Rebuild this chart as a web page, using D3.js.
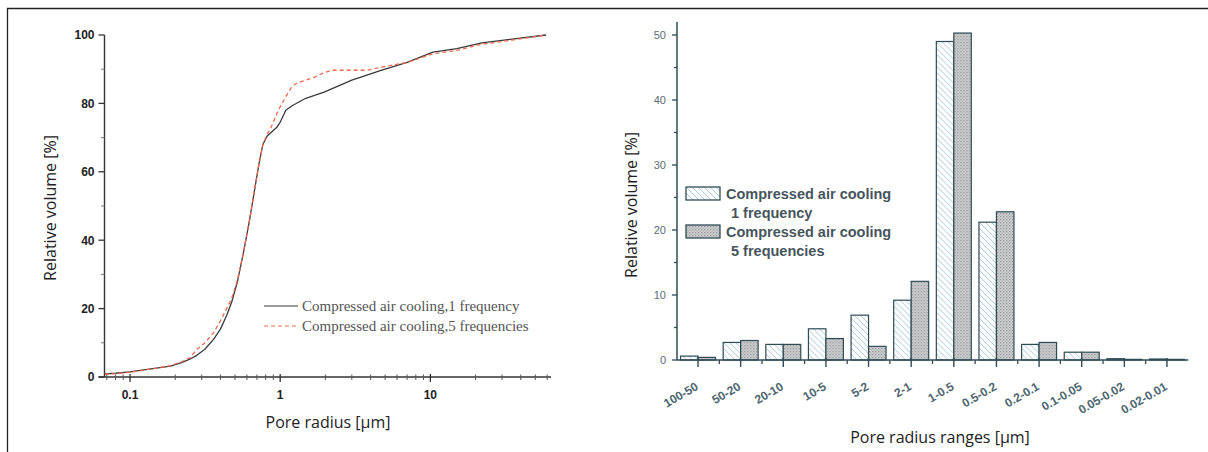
<!DOCTYPE html>
<html>
<head>
<meta charset="utf-8">
<script src="https://cdn.jsdelivr.net/npm/d3@7"></script>
<style>
  body { margin: 0; background: #fff; }
</style>
</head>
<body>
<div id="vis-container"></div>
<script>
// left panel: cumulative pore volume vs pore radius
const radius1 = [0.068, 0.08, 0.1, 0.12, 0.15, 0.186, 0.22, 0.25, 0.28, 0.316, 0.36, 0.40, 0.44, 0.476, 0.52, 0.567, 0.62, 0.68, 0.72, 0.767, 0.82, 0.87, 0.95, 1.0, 1.09, 1.2, 1.48, 1.96, 3.0, 4.75, 7, 10.4, 15, 22, 35, 59];
const volume1 = [0.9, 1.1, 1.5, 2.0, 2.6, 3.2, 4.2, 5.2, 6.4, 8.2, 11, 14, 18, 22, 28, 36, 45, 55.5, 62, 68, 70.5, 71.5, 73, 74.5, 78, 79.3, 81.5, 83.3, 86.8, 89.7, 92, 95, 96, 97.7, 98.8, 100];
const radius2 = [0.068, 0.08, 0.1, 0.12, 0.15, 0.186, 0.22, 0.25, 0.28, 0.316, 0.36, 0.40, 0.44, 0.476, 0.52, 0.567, 0.62, 0.68, 0.72, 0.767, 0.82, 0.87, 0.95, 1.0, 1.09, 1.2, 1.3, 1.48, 1.64, 1.96, 2.2, 3.0, 3.8, 4.75, 7, 10.4, 15, 22, 35, 59];
const volume2 = [0.8, 1.0, 1.4, 1.9, 2.6, 3.3, 4.4, 5.6, 8.2, 10, 13, 16.4, 20, 23, 28.5, 36, 45, 55.5, 62, 68, 71, 73, 77, 79, 82, 85, 86, 86.8, 87.4, 89, 89.7, 89.7, 89.7, 90.6, 92, 94.5, 95.5, 97.3, 98.5, 100];
const curveNames = ['Compressed air cooling,1 frequency', 'Compressed air cooling,5 frequencies'];
const radiusTicks = [0.1, 1, 10];
const radiusMinor = [0.07, 0.08, 0.09, 0.2, 0.3, 0.4, 0.5, 0.6, 0.7, 0.8, 0.9, 2, 3, 4, 5, 6, 7, 8, 9, 20, 30, 40, 50, 60];
const cumTicks = [0, 20, 40, 60, 80, 100];
const cumMinor = [10, 30, 50, 70, 90];

// right panel: volume share per pore radius range
const ranges = ['100-50', '50-20', '20-10', '10-5', '5-2', '2-1', '1-0.5', '0.5-0.2', '0.2-0.1', '0.1-0.05', '0.05-0.02', '0.02-0.01'];
const share1 = [0.6, 2.7, 2.4, 4.8, 6.9, 9.2, 49.0, 21.2, 2.4, 1.2, 0.2, 0.15];
const share5 = [0.4, 3.0, 2.4, 3.3, 2.1, 12.1, 50.3, 22.8, 2.7, 1.2, 0.1, 0.1];
const barNames = [['Compressed air cooling', '1 frequency'], ['Compressed air cooling', '5 frequencies']];
const shareTicks = [0, 10, 20, 30, 40, 50];
const shareMinor = [5, 15, 25, 35, 45];

const width = 1208;
const height = 452;

const svg = d3.select('#vis-container').append('svg')
  .attr('width', width)
  .attr('height', height);

// outer frame (top and left rules)
svg.append('path')
  .attr('d', `M7.5,${height} V8.5 H${width}`)
  .attr('fill', 'none')
  .attr('stroke', '#222')
  .attr('stroke-width', 1.3);

// ---------- left panel ----------
const xLog = d3.scaleLog().domain([0.0676, 63.6]).range([104.5, 551]);
const yCum = d3.scaleLinear().domain([0, 100]).range([377, 35]);

const left = svg.append('g');
const axisCol = '#333';

// y axis
left.append('line')
  .attr('x1', xLog.range()[0]).attr('x2', xLog.range()[0])
  .attr('y1', yCum(100)).attr('y2', yCum(0))
  .attr('stroke', axisCol).attr('stroke-width', 1.4);
left.selectAll('.ymaj').data(cumTicks).join('line')
  .attr('x1', xLog.range()[0] - 6).attr('x2', xLog.range()[0])
  .attr('y1', d => yCum(d)).attr('y2', d => yCum(d))
  .attr('stroke', axisCol).attr('stroke-width', 1.3);
left.selectAll('.ymin').data(cumMinor).join('line')
  .attr('x1', xLog.range()[0] - 3.5).attr('x2', xLog.range()[0])
  .attr('y1', d => yCum(d)).attr('y2', d => yCum(d))
  .attr('stroke', '#777').attr('stroke-width', 1);
left.selectAll('.ylab').data(cumTicks).join('text')
  .attr('x', xLog.range()[0] - 10)
  .attr('y', d => yCum(d))
  .attr('dy', '0.36em')
  .attr('text-anchor', 'end')
  .attr('font-family', '"Liberation Sans", Arial, sans-serif')
  .attr('font-weight', 'bold')
  .attr('font-size', 12)
  .attr('fill', '#222')
  .text(d => d);

// x axis
left.append('line')
  .attr('x1', xLog.range()[0] - 6).attr('x2', xLog.range()[1])
  .attr('y1', yCum(0)).attr('y2', yCum(0))
  .attr('stroke', axisCol).attr('stroke-width', 1.4);
left.selectAll('.xmaj').data(radiusTicks).join('line')
  .attr('x1', d => xLog(d)).attr('x2', d => xLog(d))
  .attr('y1', yCum(0) - 3).attr('y2', yCum(0) + 5)
  .attr('stroke', axisCol).attr('stroke-width', 1.3);
left.selectAll('.xmin').data(radiusMinor).join('line')
  .attr('x1', d => xLog(d)).attr('x2', d => xLog(d))
  .attr('y1', yCum(0) - 2.5).attr('y2', yCum(0) + 3)
  .attr('stroke', '#555').attr('stroke-width', 1);
left.selectAll('.xlab').data(radiusTicks).join('text')
  .attr('x', d => xLog(d))
  .attr('y', yCum(0) + 22)
  .attr('text-anchor', 'middle')
  .attr('font-family', '"Liberation Sans", Arial, sans-serif')
  .attr('font-weight', 'bold')
  .attr('font-size', 12)
  .attr('fill', '#222')
  .text(d => d);

// curves
const line = d3.line()
  .x(d => xLog(d[0]))
  .y(d => yCum(d[1]));

left.append('path')
  .datum(d3.zip(radius1, volume1))
  .attr('fill', 'none')
  .attr('stroke', '#3a3a3a')
  .attr('stroke-width', 1.3)
  .attr('stroke-linejoin', 'round')
  .attr('d', line);

left.append('path')
  .datum(d3.zip(radius2, volume2))
  .attr('fill', 'none')
  .attr('stroke', '#f0694c')
  .attr('stroke-width', 1.3)
  .attr('stroke-dasharray', '4,3')
  .attr('stroke-linejoin', 'round')
  .attr('d', line);

// legend
const legL = left.append('g').attr('transform', 'translate(264,306)');
legL.append('line').attr('x1', 0).attr('x2', 34).attr('y1', 0).attr('y2', 0)
  .attr('stroke', '#3a3a3a').attr('stroke-width', 1.2);
legL.append('line').attr('x1', 0).attr('x2', 34).attr('y1', 20).attr('y2', 20)
  .attr('stroke', '#f0694c').attr('stroke-width', 1.2).attr('stroke-dasharray', '4,3');
legL.selectAll('text').data(curveNames).join('text')
  .attr('x', 38)
  .attr('y', (d, i) => i * 20)
  .attr('dy', '0.35em')
  .attr('font-family', '"Liberation Serif", "Times New Roman", serif')
  .attr('font-size', 15)
  .attr('fill', '#555')
  .text(d => d);

// axis titles
left.append('text')
  .attr('transform', 'translate(50,208) rotate(-90)')
  .attr('text-anchor', 'middle')
  .attr('dy', '0.35em')
  .attr('font-family', '"Open Sans", sans-serif')
  .attr('font-size', 16)
  .attr('fill', '#222')
  .text('Relative volume [%]');
left.append('text')
  .attr('x', 328).attr('y', 422)
  .attr('text-anchor', 'middle')
  .attr('dy', '0.35em')
  .attr('font-family', '"Open Sans", sans-serif')
  .attr('font-size', 16)
  .attr('fill', '#222')
  .text('Pore radius [µm]');

// ---------- right panel ----------
const barStroke = '#2f4b56';
const defs = svg.append('defs');
const hatch = defs.append('pattern')
  .attr('id', 'hatch').attr('patternUnits', 'userSpaceOnUse')
  .attr('width', 6).attr('height', 6);
hatch.append('rect').attr('width', 6).attr('height', 6).attr('fill', '#fff');
hatch.append('path')
  .attr('d', 'M0,0 L6,6 M-1,5 L1,7 M5,-1 L7,1')
  .attr('stroke', '#9fc4dc').attr('stroke-width', 0.9);
const dots = defs.append('pattern')
  .attr('id', 'dots').attr('patternUnits', 'userSpaceOnUse')
  .attr('width', 3).attr('height', 3);
dots.append('rect').attr('width', 3).attr('height', 3).attr('fill', '#d2d2d2');
dots.append('rect').attr('width', 1.3).attr('height', 1.3).attr('fill', '#8f9598');
dots.append('rect').attr('x', 1.5).attr('y', 1.5).attr('width', 1.3).attr('height', 1.3).attr('fill', '#a9aeb0');

const xBand = d3.scaleBand().domain(ranges).range([676.7, 1188.3])
  .paddingInner(0.18).paddingOuter(0.09);
const xSub = d3.scaleBand().domain([0, 1]).range([0, xBand.bandwidth()]);
const yShare = d3.scaleLinear().domain([0, 52]).range([360, 22]);

const right = svg.append('g');
const step = xBand.step();
const axisX0 = 677;

// bars
const groups = right.selectAll('.grp').data(ranges).join('g')
  .attr('transform', d => `translate(${xBand(d)},0)`);
groups.append('rect')
  .attr('x', xSub(0)).attr('width', xSub.bandwidth())
  .attr('y', (d, i) => yShare(share1[i]))
  .attr('height', (d, i) => yShare(0) - yShare(share1[i]))
  .attr('fill', 'url(#hatch)')
  .attr('stroke', barStroke).attr('stroke-width', 1.2);
groups.append('rect')
  .attr('x', xSub(1)).attr('width', xSub.bandwidth())
  .attr('y', (d, i) => yShare(share5[i]))
  .attr('height', (d, i) => yShare(0) - yShare(share5[i]))
  .attr('fill', 'url(#dots)')
  .attr('stroke', barStroke).attr('stroke-width', 1.2);

// y axis
right.append('line')
  .attr('x1', axisX0).attr('x2', axisX0)
  .attr('y1', yShare.range()[1]).attr('y2', yShare(0))
  .attr('stroke', barStroke).attr('stroke-width', 1.5);
right.selectAll('.ymaj').data(shareTicks).join('line')
  .attr('x1', axisX0 - 5).attr('x2', axisX0)
  .attr('y1', d => yShare(d)).attr('y2', d => yShare(d))
  .attr('stroke', barStroke).attr('stroke-width', 1.3);
right.selectAll('.ymin').data(shareMinor).join('line')
  .attr('x1', axisX0 - 3).attr('x2', axisX0)
  .attr('y1', d => yShare(d)).attr('y2', d => yShare(d))
  .attr('stroke', barStroke).attr('stroke-width', 1.3);
right.selectAll('.ylab').data(shareTicks).join('text')
  .attr('x', axisX0 - 11)
  .attr('y', d => yShare(d))
  .attr('dy', '0.36em')
  .attr('text-anchor', 'end')
  .attr('font-family', '"Liberation Sans", Arial, sans-serif')
  .attr('font-size', 11)
  .attr('fill', '#5b6d75')
  .text(d => d);

// x axis
right.append('line')
  .attr('x1', axisX0).attr('x2', xBand.range()[1])
  .attr('y1', yShare(0)).attr('y2', yShare(0))
  .attr('stroke', barStroke).attr('stroke-width', 1.6);
right.selectAll('.xmaj').data(ranges).join('line')
  .attr('x1', d => xBand(d) + xBand.bandwidth() / 2)
  .attr('x2', d => xBand(d) + xBand.bandwidth() / 2)
  .attr('y1', yShare(0) - 2).attr('y2', yShare(0) + 7)
  .attr('stroke', barStroke).attr('stroke-width', 1.4);
right.selectAll('.xmin').data(ranges.slice(1)).join('line')
  .attr('x1', d => xBand(d) + xBand.bandwidth() / 2 - step / 2)
  .attr('x2', d => xBand(d) + xBand.bandwidth() / 2 - step / 2)
  .attr('y1', yShare(0)).attr('y2', yShare(0) + 4)
  .attr('stroke', barStroke).attr('stroke-width', 1.3);
right.selectAll('.xlab').data(ranges).join('text')
  .attr('transform', d => `translate(${xBand(d) + xBand.bandwidth() / 2 + 1},${yShare(0) + 29}) rotate(-30)`)
  .attr('text-anchor', 'end')
  .attr('font-family', '"Liberation Sans", Arial, sans-serif')
  .attr('font-weight', 'bold')
  .attr('font-size', 12)
  .attr('fill', '#4d6670')
  .text(d => d);

// legend
const legR = right.append('g').attr('transform', 'translate(686,187)');
const legFills = ['url(#hatch)', 'url(#dots)'];
barNames.forEach((name, i) => {
  const gy = i * 38;
  legR.append('rect')
    .attr('x', 0).attr('y', gy).attr('width', 34).attr('height', 13)
    .attr('fill', legFills[i])
    .attr('stroke', barStroke).attr('stroke-width', 1.3);
  legR.append('text')
    .attr('x', 40).attr('y', gy + 12)
    .attr('font-family', '"Liberation Sans", Arial, sans-serif')
    .attr('font-weight', 'bold')
    .attr('font-size', 14.5)
    .attr('fill', '#46555c')
    .text(name[0]);
  legR.append('text')
    .attr('x', 45).attr('y', gy + 31)
    .attr('font-family', '"Liberation Sans", Arial, sans-serif')
    .attr('font-weight', 'bold')
    .attr('font-size', 14.5)
    .attr('fill', '#46555c')
    .text(name[1]);
});

// axis titles
right.append('text')
  .attr('transform', 'translate(631,205) rotate(-90)')
  .attr('text-anchor', 'middle')
  .attr('dy', '0.35em')
  .attr('font-family', '"Open Sans", sans-serif')
  .attr('font-size', 16)
  .attr('fill', '#222')
  .text('Relative volume [%]');
right.append('text')
  .attr('x', 940).attr('y', 437)
  .attr('text-anchor', 'middle')
  .attr('dy', '0.35em')
  .attr('font-family', '"Open Sans", sans-serif')
  .attr('font-size', 16)
  .attr('fill', '#222')
  .text('Pore radius ranges [µm]');
</script>
</body>
</html>
